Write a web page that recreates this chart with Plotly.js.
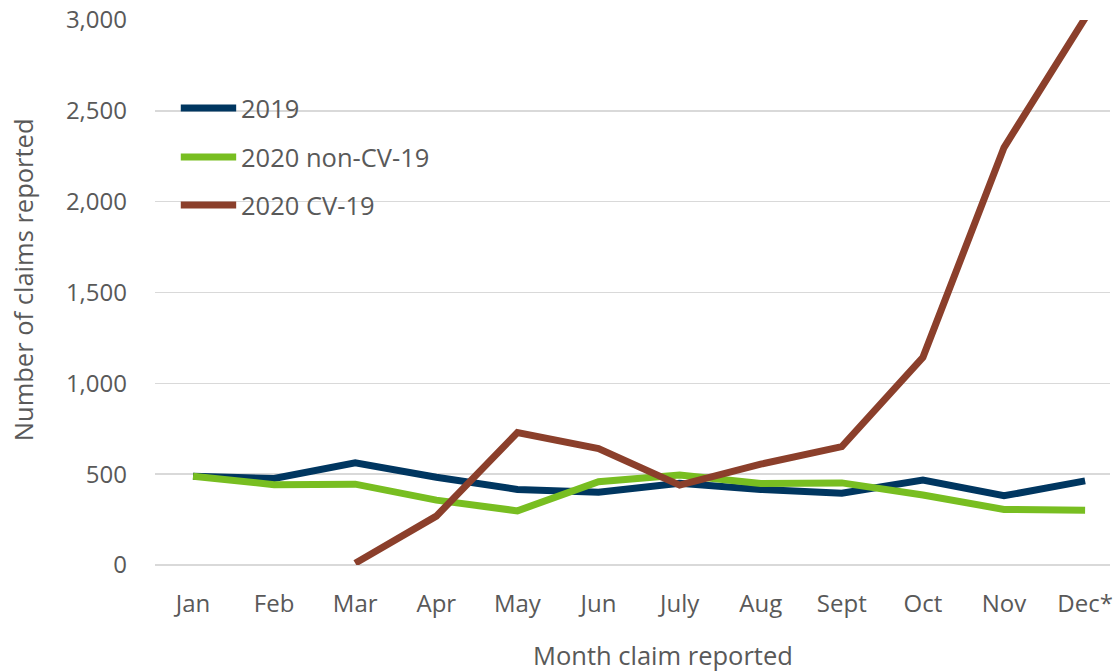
<!DOCTYPE html>
<html>
<head>
<meta charset="utf-8">
<script src="https://cdn.plot.ly/plotly-3.0.1.min.js"></script>
<style>html,body{margin:0;padding:0;background:#fff;}#chart{width:1119px;height:672px;}</style>
</head>
<body>
<div id="chart"></div>
<script>
const months = ["Jan","Feb","Mar","Apr","May","Jun","July","Aug","Sept","Oct","Nov","Dec*"];
const claims2019 = [489, 476, 562, 483, 416, 400, 450, 416, 395, 467, 381, 463];
const claims2020NonCV = [489, 442, 445, 357, 298, 458, 495, 449, 452, 385, 306, 302];
const claims2020CV = [null, null, 10, 269, 729, 641, 440, 555, 652, 1143, 2298, 3010];
const seriesNames = ["2019", "2020 non-CV-19", "2020 CV-19"];
const yTickVals = [0, 500, 1000, 1500, 2000, 2500, 3000];
const xTitle = "Month claim reported";
const yTitle = "Number of claims reported";

const colors = ["#003660", "#78BE21", "#8B3F2B"];
const allData = [claims2019, claims2020NonCV, claims2020CV];
const traces = allData.map((ys, i) => ({
  type: "scatter",
  mode: "lines",
  x: months.map((m, j) => j),
  y: ys,
  name: seriesNames[i],
  line: {color: colors[i], width: 7},
  connectgaps: false,
  showlegend: false
}));

const font = {family: "'Open Sans', sans-serif", size: 24, color: "#595959"};
const bigFont = {family: "'Open Sans', sans-serif", size: 25.5, color: "#595959"};

// Custom legend (long line keys like the reference)
const legendY = [0.8385, 0.7486, 0.6606];
const shapes = seriesNames.map((n, i) => ({
  type: "line", xref: "paper", yref: "paper",
  x0: 0.027, x1: 0.085, y0: legendY[i], y1: legendY[i],
  line: {color: colors[i], width: 7}, layer: "above"
}));
const annotations = seriesNames.map((n, i) => ({
  xref: "paper", yref: "paper", x: 0.0875, y: legendY[i],
  xanchor: "left", yanchor: "middle", showarrow: false,
  text: n, font: bigFont
}));
// Axis titles placed as in the reference
annotations.push({
  xref: "paper", yref: "paper", x: 0.532, y: -0.165,
  xanchor: "center", yanchor: "middle", showarrow: false,
  text: xTitle, font: bigFont
});
annotations.push({
  xref: "paper", yref: "paper", x: -0.138, y: 0.523,
  xanchor: "center", yanchor: "middle", showarrow: false, textangle: -90,
  text: yTitle, font: bigFont
});

const layout = {
  width: 1119, height: 672,
  margin: {l: 155, r: 9, t: 20, b: 107},
  paper_bgcolor: "#fff", plot_bgcolor: "#fff",
  font: font,
  showlegend: false,
  shapes: shapes,
  annotations: annotations,
  xaxis: {
    range: [-0.469, 11.307],
    tickvals: months.map((m, j) => j),
    ticktext: months,
    showgrid: false, zeroline: false, showline: false, ticks: "",
    ticklabelstandoff: 22,
    tickfont: font
  },
  yaxis: {
    range: [0, 3000],
    tickvals: yTickVals,
    ticktext: yTickVals.map(v => v.toLocaleString("en-US")),
    showgrid: true, gridcolor: "#d9d9d9", gridwidth: 1.5,
    zeroline: true, zerolinecolor: "#d9d9d9", zerolinewidth: 1.5,
    showline: false, ticks: "",
    ticklabelstandoff: 27,
    tickfont: font
  }
};

Plotly.newPlot("chart", traces, layout, {displayModeBar: false, staticPlot: true});
</script>
</body>
</html>
